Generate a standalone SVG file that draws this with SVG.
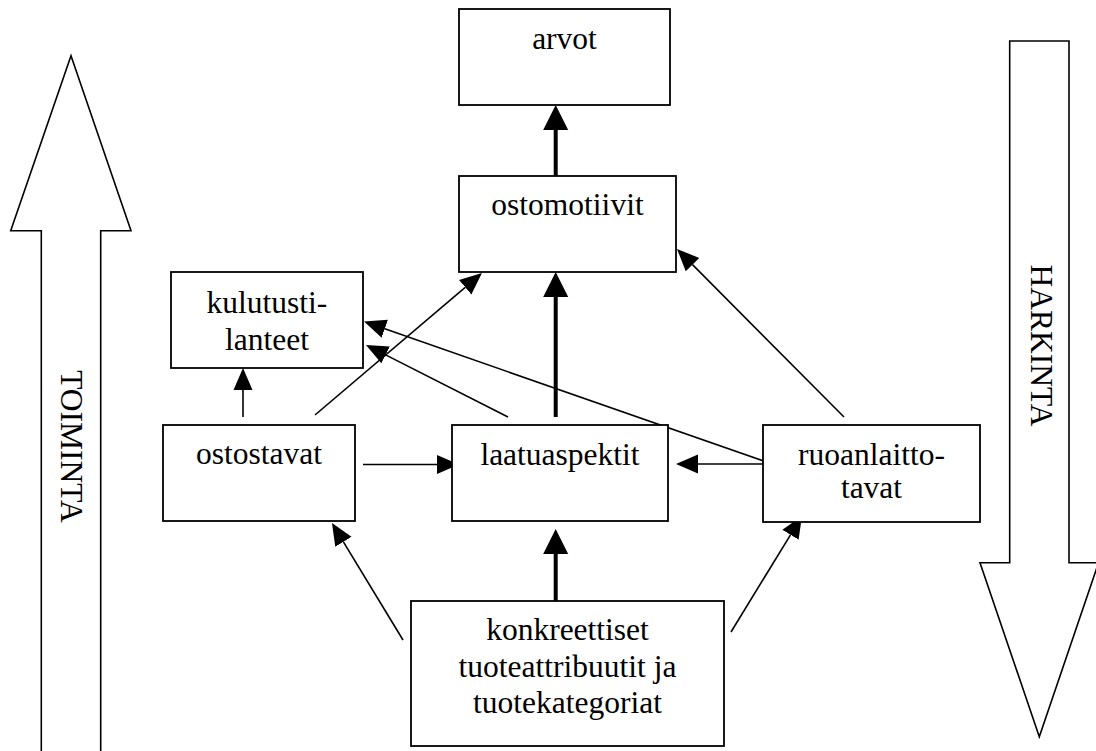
<svg xmlns="http://www.w3.org/2000/svg" width="1096" height="751" viewBox="0 0 1096 751">
  <style>
    .box { fill: #ffffff; stroke: #000000; stroke-width: 1.8; }
    .big { fill: #ffffff; stroke: #000000; stroke-width: 1.6; stroke-linejoin: miter; }
    .lbl { font-family: 'Liberation Serif', 'Times New Roman', Times, serif; font-size: 31.5px; fill: #000000; text-anchor: middle; }
    .thin { stroke: #000000; stroke-width: 1.6; fill: none; marker-end: url(#headThin); }
    .thick { stroke: #000000; stroke-width: 4; fill: none; marker-end: url(#headThick); }
  </style>
  <defs>
    <marker id="headThin" markerUnits="userSpaceOnUse" viewBox="0 -10 22 20" markerWidth="22" markerHeight="20" refX="0" refY="0" orient="auto">
      <path d="M0,-9.5 L22,0 L0,9.5 Z" fill="#000000"/>
    </marker>
    <marker id="headThick" markerUnits="userSpaceOnUse" viewBox="0 -13 25 26" markerWidth="25" markerHeight="26" refX="0" refY="0" orient="auto">
      <path d="M0,-12.5 L25,0 L0,12.5 Z" fill="#000000"/>
    </marker>
  </defs>

  <rect width="1096" height="751" fill="#ffffff"/>

  <g font-family="Liberation Serif, Times New Roman, serif">
  <!-- side arrows -->
  <g id="toiminta">
    <path class="big" d="M71,55.7 L131,230.7 L100.7,230.7 L100.7,760 L41.3,760 L41.3,230.7 L10.7,230.7 Z"/>
    <text class="lbl" transform="translate(61,446.5) rotate(90)">TOIMINTA</text>
  </g>
  <g id="harkinta">
    <path class="big" d="M1009.7,41 L1069,41 L1069,562.7 L1098.6,562.7 L1039.3,736.7 L980,562.7 L1009.7,562.7 Z"/>
    <text class="lbl" transform="translate(1030.5,345.5) rotate(90)">HARKINTA</text>
  </g>

  <!-- connectors -->
  <g id="connectors">
    <line class="thick" x1="555.7" y1="176" x2="555.7" y2="130"/>
    <line class="thick" x1="555.7" y1="417" x2="555.7" y2="297"/>
    <line class="thick" x1="555.7" y1="601" x2="555.7" y2="554"/>
    <line class="thin" x1="243" y1="417" x2="243" y2="390"/>
    <line class="thin" x1="315" y1="415" x2="465.2" y2="287.3"/>
    <line class="thin" x1="508" y1="417" x2="385.6" y2="354.9"/>
    <line class="thin" x1="772" y1="464" x2="384.8" y2="328.8"/>
    <line class="thin" x1="772" y1="464" x2="698" y2="464"/>
    <line class="thin" x1="844" y1="417" x2="692.5" y2="264.6"/>
    <line class="thin" x1="363" y1="464.5" x2="437" y2="464.5"/>
    <line class="thin" x1="403" y1="640" x2="343.4" y2="541.8"/>
    <line class="thin" x1="731" y1="632" x2="790.5" y2="534.8"/>
  </g>

  <!-- nodes -->
  <g id="arvot">
    <rect class="box" x="459" y="9" width="211" height="96"/>
    <text class="lbl" x="564.5" y="49">arvot</text>
  </g>
  <g id="ostomotiivit">
    <rect class="box" x="459" y="176" width="217" height="96"/>
    <text class="lbl" x="567.5" y="215">ostomotiivit</text>
  </g>
  <g id="kulutustilanteet">
    <rect class="box" x="171" y="272" width="192" height="96"/>
    <text class="lbl" x="267" y="313">kulutusti-</text>
    <text class="lbl" x="267" y="350">lanteet</text>
  </g>
  <g id="ostostavat">
    <rect class="box" x="163" y="425" width="192" height="96"/>
    <text class="lbl" x="259" y="464">ostostavat</text>
  </g>
  <g id="laatuaspektit">
    <rect class="box" x="452" y="425" width="216" height="96"/>
    <text class="lbl" x="560" y="465">laatuaspektit</text>
  </g>
  <g id="ruoanlaittotavat">
    <rect class="box" x="763" y="425" width="217" height="97"/>
    <text class="lbl" x="871.5" y="465">ruoanlaitto-</text>
    <text class="lbl" x="871.5" y="498">tavat</text>
  </g>
  <g id="konkreettiset">
    <rect class="box" x="411" y="601" width="313" height="145"/>
    <text class="lbl" x="567.5" y="640">konkreettiset</text>
    <text class="lbl" x="567.5" y="677">tuoteattribuutit ja</text>
    <text class="lbl" x="567.5" y="713">tuotekategoriat</text>
  </g>
  </g>
</svg>
